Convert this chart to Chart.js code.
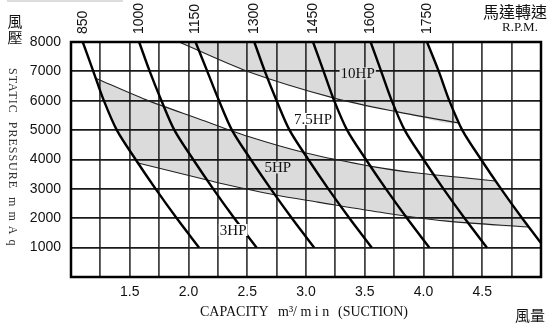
<!DOCTYPE html>
<html>
<head>
<meta charset="utf-8">
<script src="https://cdn.jsdelivr.net/npm/chart.js@4.4.1/dist/chart.umd.min.js"></script>
<style>
  html, body { margin: 0; padding: 0; background: #fff; }
  #wrap { width: 548px; height: 325px; position: relative; }
</style>
</head>
<body>
<div id="wrap"><canvas id="fanChart"></canvas></div>
<script>
// static pressure levels (mmAq) at which every rpm curve was read
const pressureLevels = [8000, 7000, 6000, 5000, 4000, 3000, 2000, 1000];

// capacity (m3/min) of each rpm curve at those pressure levels
const rpmLabels = ['850', '1000', '1150', '1300', '1450', '1600', '1750'];
const rpm850  = [1.10, 1.19, 1.28, 1.39, 1.55, 1.72, 1.90, 2.09];
const rpm1000 = [1.58, 1.67, 1.77, 1.88, 2.04, 2.21, 2.39, 2.58];
const rpm1150 = [2.06, 2.16, 2.26, 2.37, 2.53, 2.70, 2.88, 3.07];
const rpm1300 = [2.56, 2.65, 2.75, 2.86, 3.02, 3.19, 3.37, 3.56];
const rpm1450 = [3.06, 3.15, 3.24, 3.35, 3.51, 3.68, 3.86, 4.05];
const rpm1600 = [3.55, 3.64, 3.73, 3.84, 4.00, 4.17, 4.35, 4.54];
const rpm1750 = [4.03, 4.13, 4.22, 4.33, 4.49, 4.66, 4.84, 5.03];
const rpmCurves = [rpm850, rpm1000, rpm1150, rpm1300, rpm1450, rpm1600, rpm1750];

// horsepower limit lines
const hp10X  = [1.92, 2.51, 3.24, 3.78, 4.30];
const hp10Y  = [8000, 6990, 6090, 5620, 5240];
const hpMidX = [1.21, 1.64, 2.09, 2.51, 3.00, 3.58, 3.95, 4.61];
const hpMidY = [6770, 6030, 5380, 4780, 4220, 3750, 3540, 3270];
const hpLowX = [1.57, 2.09, 2.26, 2.74, 3.10, 3.67, 4.18, 4.89];
const hpLowY = [3880, 3370, 3200, 2790, 2550, 2180, 1910, 1700];

// horsepower labels
const hpLabels = ['10HP', '7.5HP', '5HP', '3HP'];
const hpLabelX = [3.44, 3.06, 2.76, 2.38];
const hpLabelY = [6930, 5380, 3730, 1600];
const hpInBand = [true, false, true, false];

const xTickLabels = [1.5, 2.0, 2.5, 3.0, 3.5, 4.0, 4.5];

const bandFill = 'rgba(0,0,0,0.14)';

function curvePoints(xs) {
    return xs.map((v, i) => ({x: v, y: pressureLevels[i]}));
}
function linePoints(xs, ys) {
    return xs.map((v, i) => ({x: v, y: ys[i]}));
}
// curve points strictly between two pressures, in travel order
function curveSpan(xs, yFrom, yTo) {
    const lo = Math.min(yFrom, yTo), hi = Math.max(yFrom, yTo);
    const pts = curvePoints(xs).filter(p => p.y > lo && p.y < hi);
    return yFrom < yTo ? pts.reverse() : pts;
}

// shaded areas built from the lines and the outer rpm curves
const upperBand = linePoints(hp10X, hp10Y)
    .concat(curveSpan(rpm1750, hp10Y[hp10Y.length - 1], 8000))
    .concat([{x: rpm1750[0], y: 8000}]);

const lowerBand = linePoints(hpMidX, hpMidY)
    .concat(curveSpan(rpm1750, hpMidY[hpMidY.length - 1], hpLowY[hpLowY.length - 1]))
    .concat(linePoints(hpLowX, hpLowY).reverse())
    .concat(curveSpan(rpm850, hpLowY[0], hpMidY[0]));

const datasets = [];
[upperBand, lowerBand].forEach(pts => {
    datasets.push({
        data: pts, fill: 'shape', backgroundColor: bandFill,
        borderWidth: 0, pointRadius: 0, tension: 0.3, order: 5
    });
});
[[hp10X, hp10Y], [hpMidX, hpMidY], [hpLowX, hpLowY]].forEach(([xs, ys]) => {
    datasets.push({
        data: linePoints(xs, ys), borderColor: '#222', borderWidth: 1.1,
        pointRadius: 0, tension: 0.3, fill: false, order: 3
    });
});
rpmCurves.forEach(xs => {
    datasets.push({
        data: curvePoints(xs), borderColor: '#000', borderWidth: 2.4,
        pointRadius: 0, tension: 0.3, fill: false, order: 1
    });
});

const textPlugin = {
    id: 'fanText',
    afterDatasetsDraw(chart) {
        const {ctx, scales: {x, y}} = chart;
        ctx.save();
        ctx.font = '15px "Liberation Serif"';
        ctx.textAlign = 'center';
        ctx.textBaseline = 'middle';
        hpLabels.forEach((t, i) => {
            const px = x.getPixelForValue(hpLabelX[i]);
            const py = y.getPixelForValue(hpLabelY[i]);
            const w = ctx.measureText(t).width + 2;
            ctx.fillStyle = '#fff';
            ctx.fillRect(px - w / 2, py - 6, w, 12);
            if (hpInBand[i]) {
                ctx.fillStyle = bandFill;
                ctx.fillRect(px - w / 2, py - 6, w, 12);
            }
            ctx.fillStyle = '#111';
            ctx.fillText(t, px, py + 1);
        });
        ctx.restore();
    },
    afterDraw(chart) {
        const {ctx, chartArea: a, scales: {x}} = chart;
        ctx.save();
        // frame
        ctx.strokeStyle = '#000';
        ctx.lineWidth = 2.5;
        ctx.strokeRect(a.left, a.top, a.right - a.left, a.bottom - a.top);

        // faint bar at the top left
        ctx.fillStyle = '#dddddd';
        ctx.fillRect(7, 0, 116, 2);

        // rpm labels at the top of each curve
        ctx.fillStyle = '#111';
        ctx.font = '14px "Liberation Sans"';
        ctx.textAlign = 'left';
        ctx.textBaseline = 'middle';
        rpmCurves.forEach((xs, i) => {
            ctx.save();
            ctx.translate(x.getPixelForValue(xs[0]), 34);
            ctx.rotate(-Math.PI / 2);
            ctx.fillText(rpmLabels[i], 0, 0);
            ctx.restore();
        });

        // chinese titles
        ctx.font = '15px "Noto Sans CJK TC"';
        ctx.textAlign = 'center';
        ctx.fillText('風', 15, 21);
        ctx.fillText('壓', 15, 37);
        ctx.fillText('風量', 530, 315);
        ctx.font = '16px "Noto Sans CJK TC"';
        ctx.fillText('馬達轉速', 515, 12);
        ctx.font = '13px "Liberation Serif"';
        ctx.fillText('R.P.M.', 520, 28);

        // capacity title
        ctx.font = '14px "Liberation Serif"';
        ctx.textAlign = 'left';
        ctx.fillText('CAPACITY', 200, 312);
        ctx.fillText('m\u00B3/ m i n', 278, 312);
        ctx.fillText('(SUCTION)', 338, 312);

        // static pressure title, reading top to bottom
        ctx.fillStyle = '#333';
        ctx.font = '12px "Liberation Serif"';
        ctx.letterSpacing = '1px';
        ctx.translate(12, 68);
        ctx.rotate(Math.PI / 2);
        ctx.fillText('STATIC  PRESSURE  m m A q', 0, 0);
        ctx.restore();
    }
};

new Chart(document.getElementById('fanChart'), {
    type: 'line',
    data: { datasets: datasets },
    options: {
        responsive: true,
        maintainAspectRatio: false,
        animation: false,
        layout: { padding: { top: 42, right: 2, left: 0, bottom: 0 } },
        plugins: { legend: { display: false }, tooltip: { enabled: false } },
        scales: {
            x: {
                type: 'linear', min: 1, max: 5,
                afterFit: s => { s.height = 48; },
                grid: { color: '#444', lineWidth: 1.8, drawTicks: false },
                border: { display: false },
                ticks: {
                    stepSize: 0.25, autoSkip: false, maxRotation: 0, padding: 7,
                    color: '#111', font: { family: 'Liberation Sans', size: 14 },
                    callback: v => xTickLabels.includes(v) ? v.toFixed(1) : ''
                }
            },
            y: {
                type: 'linear', min: 0, max: 8000,
                afterFit: s => { s.width = 71; },
                grid: { color: '#1a1a1a', lineWidth: 1.8, drawTicks: false },
                border: { display: false },
                ticks: {
                    stepSize: 1000, padding: 10,
                    color: '#111', font: { family: 'Liberation Sans', size: 14 },
                    callback: v => v === 0 ? '' : String(v)
                }
            }
        }
    },
    plugins: [textPlugin]
});
</script>
</body>
</html>
